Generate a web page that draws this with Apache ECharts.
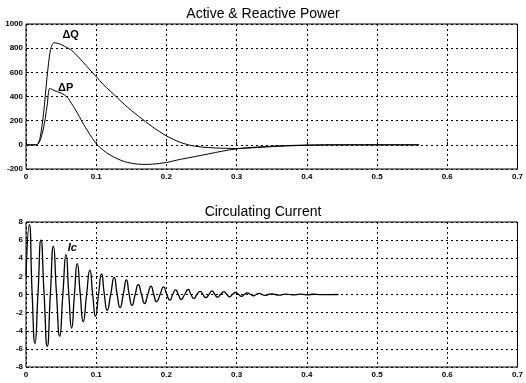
<!DOCTYPE html>
<html>
<head>
<meta charset="utf-8">
<script src="https://cdn.jsdelivr.net/npm/echarts@6/dist/echarts.min.js"></script>
<style>
html,body{margin:0;padding:0;background:#fff;}
#c{width:526px;height:383px;}
</style>
</head>
<body>
<div id="c"></div>
<script>
// ---- data ----
const xTicks = [0, 0.1, 0.2, 0.3, 0.4, 0.5, 0.6, 0.7];
const powerTicks = [-200, 0, 200, 400, 600, 800, 1000];
const currentTicks = [-8, -6, -4, -2, 0, 2, 4, 6, 8];

const dQTime  = [0, 0.015, 0.02, 0.025, 0.03, 0.035, 0.04, 0.045, 0.05, 0.055, 0.06, 0.065, 0.07, 0.08, 0.09, 0.1, 0.11, 0.12, 0.13, 0.14, 0.15, 0.16, 0.17, 0.18, 0.19, 0.2, 0.21, 0.22, 0.23, 0.24, 0.25, 0.27, 0.3, 0.33, 0.36, 0.4, 0.45, 0.56];
const dQValue = [0, 0, 60, 260, 560, 790, 845, 840, 830, 815, 800, 782, 755, 692, 628, 564, 500, 445, 390, 335, 285, 238, 193, 150, 110, 74, 45, 20, 2, -10, -18, -26, -30, -22, -12, -4, 0, 0];

const dPTime  = [0, 0.015, 0.02, 0.025, 0.03, 0.034, 0.04, 0.05, 0.055, 0.06, 0.065, 0.07, 0.076, 0.08, 0.09, 0.1, 0.11, 0.12, 0.13, 0.14, 0.15, 0.16, 0.17, 0.18, 0.19, 0.2, 0.21, 0.22, 0.24, 0.26, 0.28, 0.3, 0.33, 0.36, 0.4, 0.45, 0.56];
const dPValue = [0, 0, 35, 140, 320, 468, 450, 428, 412, 385, 340, 295, 234, 190, 95, 10, -45, -85, -115, -138, -152, -160, -162, -160, -154, -146, -133, -120, -98, -75, -52, -33, -18, -8, -2, 0, 0];

const icTime  = [0, 0.0047, 0.0088, 0.0128, 0.017, 0.0213, 0.0258, 0.0303, 0.0347, 0.039, 0.0435, 0.048, 0.0525, 0.057, 0.061, 0.065, 0.069, 0.073, 0.0773, 0.0815, 0.0863, 0.091, 0.095, 0.099, 0.1033, 0.1076, 0.1116, 0.1156, 0.1206, 0.1256, 0.1298, 0.134, 0.1385, 0.143, 0.147, 0.151, 0.1555, 0.16, 0.1645, 0.169, 0.1735, 0.178, 0.182, 0.186, 0.191, 0.196, 0.2005, 0.205, 0.209, 0.213, 0.217, 0.221, 0.226, 0.231, 0.235, 0.239, 0.2435, 0.248, 0.252, 0.256, 0.2605, 0.265, 0.269, 0.273, 0.277, 0.282, 0.286, 0.29, 0.294, 0.298, 0.303, 0.307, 0.311, 0.315, 0.32, 0.324, 0.328, 0.332, 0.336, 0.34, 0.345, 0.35, 0.355, 0.36, 0.37, 0.38, 0.39, 0.4, 0.41, 0.42, 0.445];
const icValue = [2, 7.7, 0, -5.4, 0, 6.0, 0, -5.7, 0, 5.3, 0, -4.6, 0, 4.4, 0, -3.7, 0, 3.4, 0, -3.0, 0, 2.7, 0, -2.4, 0, 2.26, 0, -1.74, 0, 1.9, 0, -1.44, 0, 1.6, 0, -1.2, 0, 1.1, 0, -1.0, 0, 0.93, 0, -0.8, 0, 0.85, 0, -0.63, 0, 0.5, 0, -0.55, 0, 0.55, 0, -0.44, 0, 0.35, 0, -0.35, 0, 0.4, 0, -0.3, 0, 0.3, 0, -0.25, 0, 0.22, 0, -0.2, 0, 0.18, 0, -0.15, 0, 0.13, 0, -0.1, 0, 0.08, 0, -0.07, 0.05, -0.05, 0.04, -0.03, 0.03, -0.02, 0];

const titles = ['Active & Reactive Power', 'Circulating Current'];
const labelDQ = { text: 'ΔQ', t: 0.0636, v: 909 };
const labelDP = { text: 'ΔP', t: 0.0565, v: 471 };
const labelIc = { text: 'Ic', t: 0.066, v: 5.1 };
// ---------------------------------------

const zip = (a, b) => a.map((x, i) => [x, b[i]]);
const FONT = 'Liberation Sans';

function xAxisCfg(gi) {
  return {
    gridIndex: gi, type: 'value', min: xTicks[0], max: xTicks[xTicks.length - 1], interval: 0.1,
    axisLine: { show: false },
    axisTick: { show: true, inside: true, length: 3, lineStyle: { color: '#000' } },
    axisLabel: { color: '#000', fontSize: 8, fontFamily: FONT, fontWeight: 'bold', margin: 4,
      formatter: v => String(+v.toFixed(1)) },
    splitLine: { show: true, lineStyle: { color: '#000', type: [2, 3], width: 1 } }
  };
}
function yAxisCfg(gi, ticks) {
  return {
    gridIndex: gi, type: 'value', min: ticks[0], max: ticks[ticks.length - 1], interval: ticks[1] - ticks[0],
    axisLine: { show: false },
    axisTick: { show: true, inside: true, length: 3, lineStyle: { color: '#000' } },
    axisLabel: { color: '#000', fontSize: 8, fontFamily: FONT, fontWeight: 'bold', margin: 3,
      formatter: v => String(Math.round(v)) },
    splitLine: { show: true, lineStyle: { color: '#000', type: [2, 3], width: 1 } }
  };
}
function textMark(lbl, italic) {
  return {
    symbol: 'circle', symbolSize: 0, silent: true,
    label: { show: true, position: 'inside', formatter: lbl.text, color: '#000',
      fontSize: 11, fontFamily: FONT, fontWeight: 'bold', fontStyle: italic ? 'italic' : 'normal' },
    data: [{ coord: [lbl.t, lbl.v], value: lbl.text }]
  };
}

const chart = echarts.init(document.getElementById('c'), null, { renderer: 'canvas' });
chart.setOption({
  backgroundColor: '#fff',
  animation: false,
  title: [
    { text: titles[0], left: 'center', top: 2, textStyle: { fontSize: 14, fontWeight: 'normal', color: '#000', fontFamily: FONT } },
    { text: titles[1], left: 'center', top: 200, textStyle: { fontSize: 14, fontWeight: 'normal', color: '#000', fontFamily: FONT } }
  ],
  grid: [
    { left: 26, right: 5, top: 24, height: 145, show: true, borderColor: '#000', borderWidth: 1, backgroundColor: 'transparent' },
    { left: 26, right: 5, top: 222, height: 145, show: true, borderColor: '#000', borderWidth: 1, backgroundColor: 'transparent' }
  ],
  xAxis: [xAxisCfg(0), xAxisCfg(1)],
  yAxis: [yAxisCfg(0, powerTicks), yAxisCfg(1, currentTicks)],
  series: [
    { type: 'line', xAxisIndex: 0, yAxisIndex: 0, data: zip(dQTime, dQValue), smooth: 0.3, showSymbol: false,
      lineStyle: { color: '#000', width: 1 }, markPoint: textMark(labelDQ, false) },
    { type: 'line', xAxisIndex: 0, yAxisIndex: 0, data: zip(dPTime, dPValue), smooth: 0.3, showSymbol: false,
      lineStyle: { color: '#000', width: 1 }, markPoint: textMark(labelDP, false) },
    { type: 'line', xAxisIndex: 1, yAxisIndex: 1, data: zip(icTime, icValue), smooth: 0.6, showSymbol: false,
      lineStyle: { color: '#000', width: 1.3 }, markPoint: textMark(labelIc, true) }
  ]
});
</script>
</body>
</html>
